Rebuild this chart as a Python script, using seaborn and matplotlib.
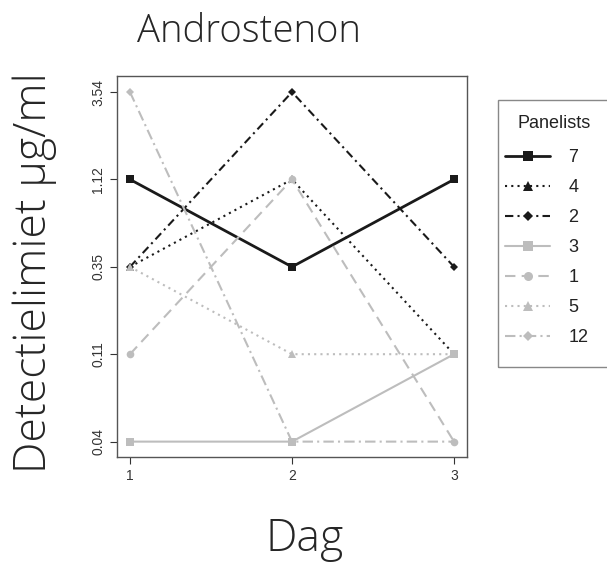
# -*- coding: utf-8 -*-

### Androstenon detection limits per panelist ###

import pandas as pd
import matplotlib
matplotlib.use("Agg")
import matplotlib.pyplot as plt
from matplotlib.patches import Rectangle
import seaborn as sns

sns.set_style("white")
plt.rcParams['font.family'] = ['Liberation Sans', 'DejaVu Sans']

## data ##
days = [1, 2, 3]
panelists = ['7', '4', '2', '3', '1', '5', '12']
# dilution levels (log spaced), labelled as on the axis
levels = [0.0354, 0.112, 0.354, 1.12, 3.54]
level_labels = ['0.04', '0.11', '0.35', '1.12', '3.54']

p7 = [1.12, 0.354, 1.12]
p4 = [0.354, 1.12, 0.112]
p2 = [0.354, 3.54, 0.354]
p3 = [0.0354, 0.0354, 0.112]
p1 = [0.112, 1.12, 0.0354]
p5 = [0.354, 0.112, 0.112]
p12 = [3.54, 0.0354, 0.0354]

series = [p7, p4, p2, p3, p1, p5, p12]
rows = []
for name, vals in zip(panelists, series):
    for d, v in zip(days, vals):
        rows.append({'Dag': d, 'Value': v, 'Panelists': name})
df = pd.DataFrame(rows)

## styles ##
dark = '#1a1a1a'
light = '#bdbdbd'
palette = {'7': dark, '4': dark, '2': dark, '3': light, '1': light, '5': light, '12': light}
markers = {'7': 's', '4': '^', '2': 'D', '3': 's', '1': 'o', '5': '^', '12': 'D'}
dashes = {'7': '', '4': (1, 2), '2': (4, 2, 1, 2), '3': '', '1': (5, 3),
          '5': (1, 2), '12': (5, 2, 1, 2)}
sizes_m = {'7': 6, '4': 5.5, '2': 3.8, '3': 6, '1': 5.5, '5': 5.5, '12': 3.8}

fig = plt.figure(figsize=(6.07, 5.65), dpi=100)
ax = fig.add_axes([117/607, 1-457/565, 350/607, 381/565])

sns.lineplot(data=df, x='Dag', y='Value', hue='Panelists', style='Panelists',
             hue_order=panelists, style_order=panelists,
             palette=palette, markers=markers, dashes=dashes,
             linewidth=1.5, markeredgewidth=0, ax=ax)

for line, name in zip(ax.get_lines(), panelists):
    line.set_markersize(sizes_m[name])
    if name == '7':
        line.set_linewidth(2)

ax.set_yscale('log')
ax.set_xlim(0.92, 3.08)
ax.set_ylim(10**-1.539, 10**0.641)
ax.set_yticks(levels)
ax.set_yticklabels(level_labels, rotation=90, va='center')
ax.minorticks_off()
ax.set_xticks(days)
ax.set_xticklabels(['1', '2', '3'])
ax.tick_params(axis='both', labelsize=10, colors='#333333', length=5, width=0.8,
               direction='out', left=True, bottom=True)
for s in ax.spines.values():
    s.set_color('#555555')
    s.set_linewidth(1)
ax.set_xlabel('')
ax.set_ylabel('')

handles, labels = ax.get_legend_handles_labels()
for h, name in zip(handles, labels):
    if name in sizes_m:
        h.set_markersize(sizes_m[name] + 1)
    if name == '7':
        h.set_linewidth(2)
ax.legend_.remove()
leg = fig.legend(handles, labels, loc='upper left',
                 bbox_to_anchor=(505/607, 1-149/565), fontsize=13,
                 handlelength=2.5, labelspacing=0.72, borderpad=0,
                 borderaxespad=0, handletextpad=1.0, frameon=False)
for t in leg.get_texts():
    t.set_color('#222222')
fig.text(554/607, 1-124/565, 'Panelists', fontsize=13, color='#222222',
         ha='center', va='center')
fig.add_artist(Rectangle((498/607, 1-367/565), 0.2, 267/565, transform=fig.transFigure,
                         fill=False, edgecolor='#888888', linewidth=1))

big = ['Open Sans', 'DejaVu Sans']
fig.text(249/607, 1-42/565, 'Androstenon', fontsize=27.5, family=big,
         ha='center', va='baseline', fontweight='light')
fig.text(305/607, 1-551/565, 'Dag', fontsize=32, family=big,
         ha='center', va='baseline', fontweight='light')
fig.text(35/607, 1-273/565, 'Detectielimiet µg/ml', fontsize=32,
         family=big, rotation=90, ha='center', va='center', fontweight='light')

plt.savefig('out.png', dpi=100)
